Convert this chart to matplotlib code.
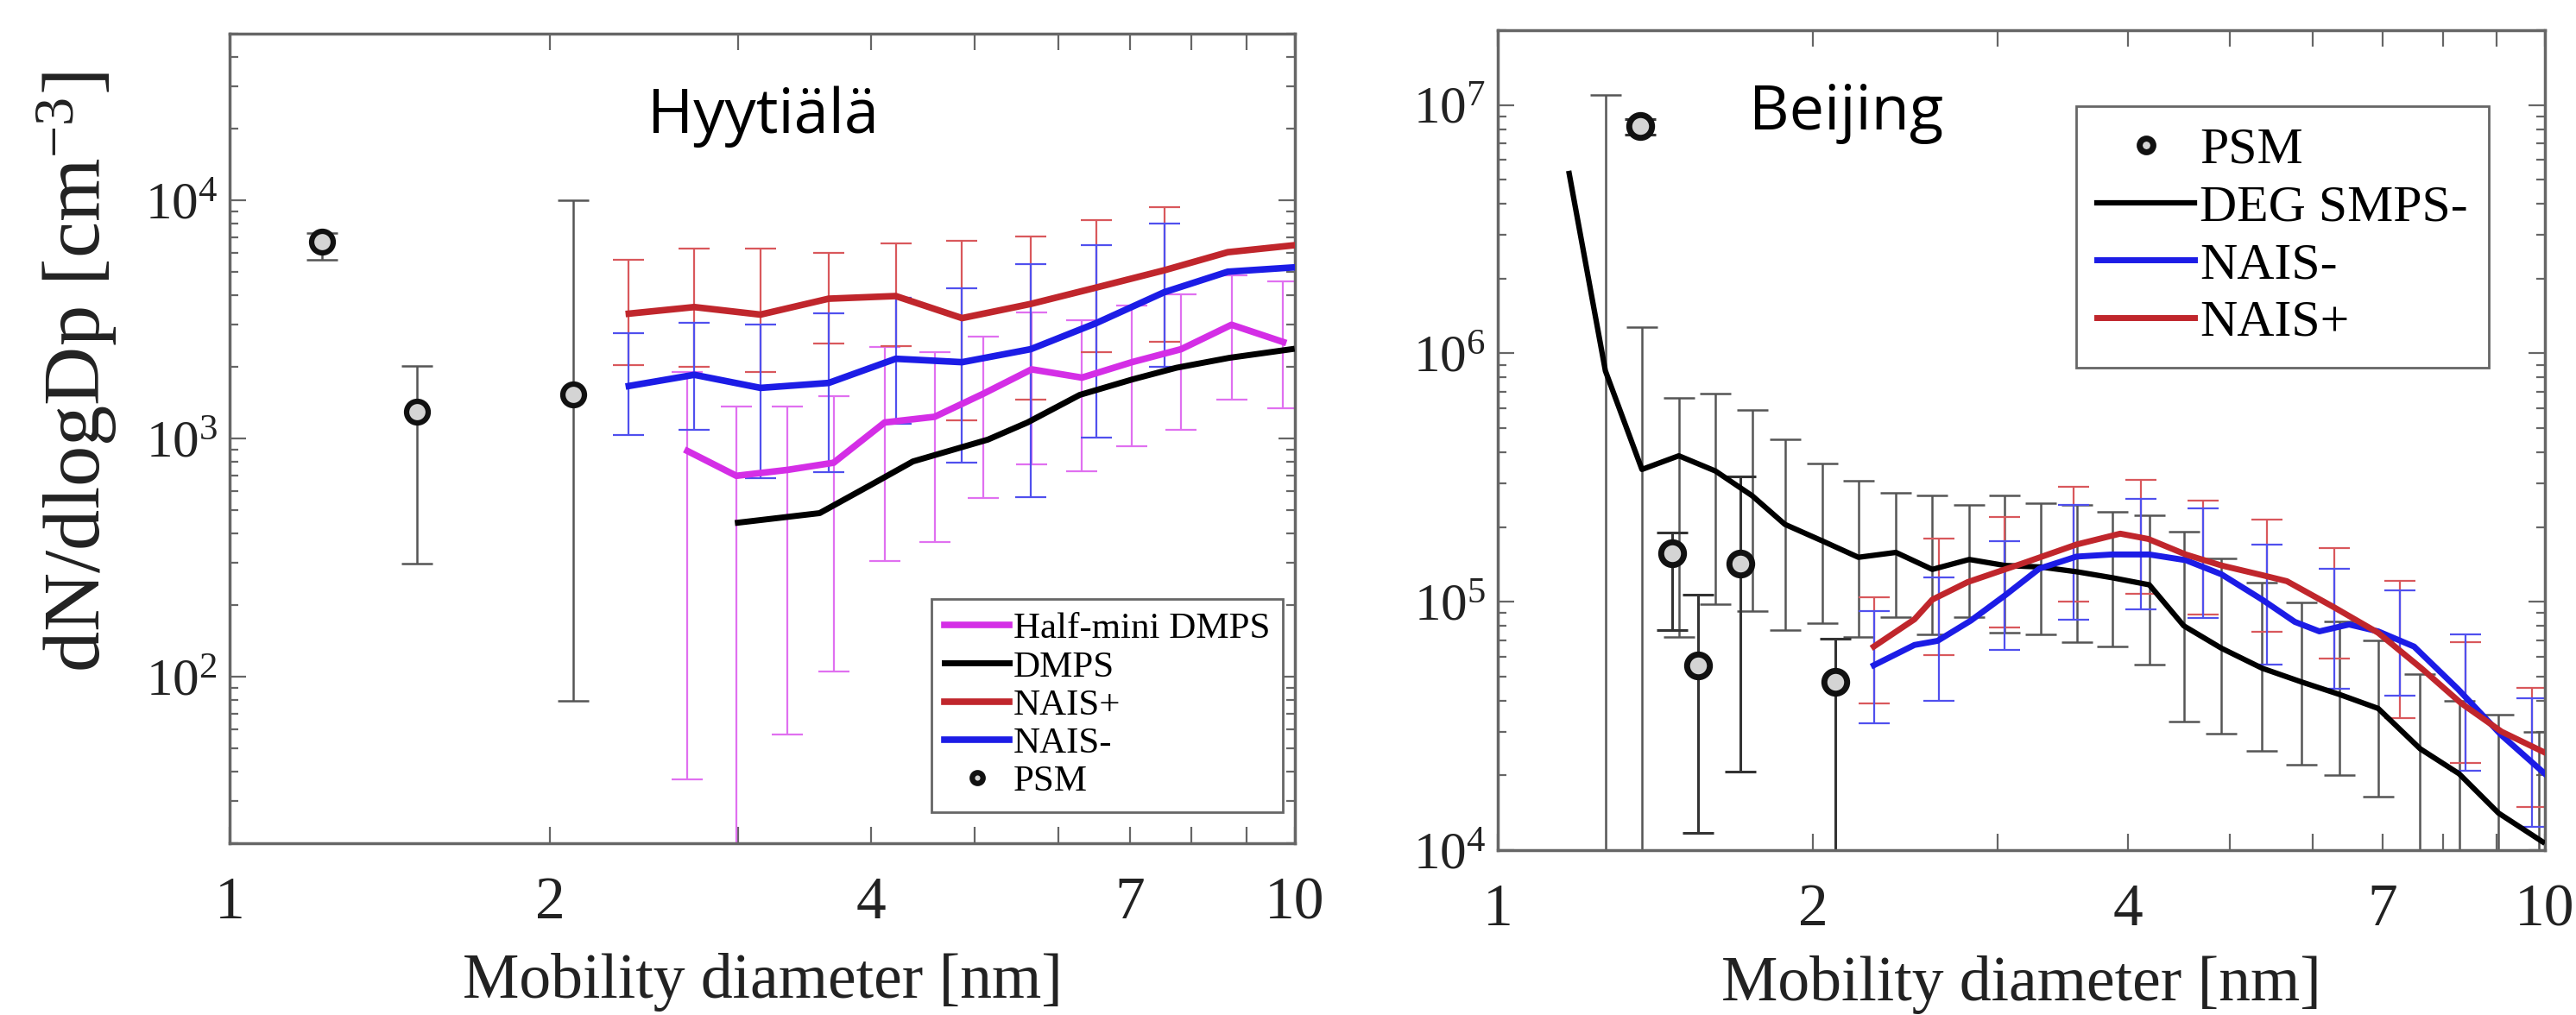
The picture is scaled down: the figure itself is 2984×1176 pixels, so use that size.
import numpy as np
import matplotlib
matplotlib.use("Agg")
import matplotlib.pyplot as plt
from matplotlib.ticker import FixedLocator, FixedFormatter, LogLocator, NullFormatter, LogFormatterSciNotation

plt.rcParams['font.family'] = ['Liberation Serif', 'DejaVu Serif']
plt.rcParams['mathtext.fontset'] = 'custom'
plt.rcParams['mathtext.rm'] = 'Liberation Serif'
plt.rcParams['mathtext.it'] = 'Liberation Serif:italic'

# ---------------- Hyytiälä data ----------------
hy_psm_x = [1.22, 1.50, 2.10]
hy_psm_y = [6700, 1290, 1530]
hy_psm_lo = [5600, 298, 79]
hy_psm_hi = [7300, 2010, 10000]

hy_nais_x = [2.37, 2.73, 3.15, 3.65, 4.22, 4.87, 5.65, 6.51, 7.54, 8.65, 9.95]
hy_naisp_y = [3340, 3560, 3310, 3860, 3960, 3200, 3670, 4300, 5080, 6050, 6460]
hy_naism_y = [1660, 1850, 1630, 1710, 2160, 2090, 2370, 3050, 4110, 5010, 5220]
hy_naiserr_x = [2.37, 2.73, 3.15, 3.65, 4.22, 4.87, 5.65, 6.51, 7.54]
hy_naisp_lo = [2040, 2000, 1900, 2510, 2440, 1190, 1460, 2300, 2540]
hy_naisp_hi = [5610, 6280, 6280, 6030, 6580, 6730, 7020, 8220, 9340]
hy_naism_lo = [1030, 1090, 680, 720, 1150, 791, 566, 1005, 2000]
hy_naism_hi = [2760, 3050, 3000, 3360, 3900, 4280, 5380, 6460, 7950]

hy_hm_x = [2.69, 2.99, 3.34, 3.69, 4.12, 4.59, 5.10, 5.66, 6.31, 7.03, 7.82, 8.72, 9.75]
hy_hm_y = [886, 697, 738, 791, 1167, 1233, 1541, 1950, 1800, 2090, 2370, 3000, 2540]
hy_hm_lo = [37, 8, 57, 105, 307, 367, 561, 781, 728, 925, 1090, 1460, 1340]
hy_hm_hi = [1900, 1360, 1360, 1500, 2430, 2300, 2670, 3370, 3130, 3600, 4020, 4820, 4560]

hy_dmps_x = [3.0, 3.58, 3.98, 4.38, 5.15, 5.61, 6.28, 7.04, 7.74, 8.68, 9.93]
hy_dmps_y = [443, 486, 631, 801, 989, 1167, 1523, 1770, 1980, 2180, 2370]

# ---------------- Beijing data ----------------
bj_psm_x = [1.368, 1.468, 1.553, 1.705, 2.102]
bj_psm_y = [8.2e6, 1.57e5, 5.55e4, 1.43e5, 4.77e4]
bj_psm_lo = [7.6e6, 7.7e4, 1.17e4, 2.07e4, 5e3]
bj_psm_hi = [8.8e6, 1.9e5, 1.07e5, 3.2e5, 7.1e4]

bj_smps_x = [1.17, 1.267, 1.373, 1.489, 1.614, 1.75, 1.88, 2.04, 2.21, 2.40, 2.60, 2.82, 3.05,
             3.30, 3.575, 3.86, 4.19, 4.52, 4.91, 5.37, 5.86, 6.36, 6.93, 7.60, 8.28, 9.03, 9.95]
bj_smps_y = [5.3e6, 8.5e5, 3.41e5, 3.87e5, 3.36e5, 2.67e5, 2.05e5, 1.76e5, 1.51e5, 1.58e5, 1.35e5,
             1.48e5, 1.40e5, 1.38e5, 1.32e5, 1.25e5, 1.17e5, 8.0e4, 6.5e4, 5.4e4, 4.75e4, 4.24e4,
             3.72e4, 2.56e4, 2.03e4, 1.41e4, 1.08e4]
bj_smpserr_x = [1.267, 1.373, 1.489, 1.614, 1.75, 1.88, 2.04, 2.21, 2.40, 2.60, 2.82, 3.05, 3.30,
                3.575, 3.86, 4.19, 4.52, 4.91, 5.37, 5.86, 6.36, 6.93, 7.60, 8.28, 9.03, 9.87]
bj_smps_hi = [1.1e7, 1.28e6, 6.64e5, 6.9e5, 5.9e5, 4.5e5, 3.6e5, 3.08e5, 2.75e5, 2.67e5, 2.45e5,
              2.67e5, 2.5e5, 2.45e5, 2.3e5, 2.23e5, 1.91e5, 1.5e5, 1.19e5, 9.9e4, 8.3e4, 7.0e4,
              5.1e4, 4.0e4, 3.5e4, 3.0e4]
bj_smps_lo = [5e3, 5e3, 7.2e4, 9.8e4, 9.2e4, 7.7e4, 8.2e4, 7.2e4, 8.7e4, 7.4e4, 8.7e4, 7.5e4, 7.4e4,
              6.9e4, 6.6e4, 5.6e4, 3.3e4, 2.95e4, 2.5e4, 2.2e4, 2.0e4, 1.64e4, 5e3, 5e3, 5e3, 5e3]

bj_naisp_x = [2.286, 2.5, 2.60, 2.81, 3.05, 3.16, 3.57, 3.93, 4.18, 4.54, 4.91, 5.37, 5.67, 6.29,
              6.93, 7.62, 8.32, 9.09, 10.0]
bj_naisp_y = [6.6e4, 8.5e4, 1.02e5, 1.2e5, 1.35e5, 1.42e5, 1.70e5, 1.88e5, 1.79e5, 1.55e5, 1.40e5,
              1.28e5, 1.21e5, 9.5e4, 7.5e4, 5.4e4, 3.9e4, 3.0e4, 2.47e4]
bj_naism_x = [2.286, 2.5, 2.63, 2.83, 3.05, 3.29, 3.57, 3.86, 4.19, 4.54, 4.91, 5.37, 5.77, 6.09,
              6.50, 6.93, 7.50, 8.26, 9.09, 10.0]
bj_naism_y = [5.55e4, 6.7e4, 6.96e4, 8.4e4, 1.06e5, 1.36e5, 1.52e5, 1.55e5, 1.55e5, 1.47e5, 1.29e5,
              1.02e5, 8.3e4, 7.6e4, 8.1e4, 7.6e4, 6.6e4, 4.45e4, 2.9e4, 2.03e4]
bj_naiserr_x = [2.286, 2.64, 3.05, 3.55, 4.11, 4.72, 5.43, 6.29, 7.27, 8.39, 9.72]
bj_naisp_hi = [1.04e5, 1.79e5, 2.2e5, 2.9e5, 3.1e5, 2.56e5, 2.14e5, 1.65e5, 1.21e5, 6.9e4, 4.5e4]
bj_naisp_lo = [3.9e4, 6.1e4, 7.9e4, 1.0e5, 1.08e5, 8.9e4, 7.6e4, 5.9e4, 3.4e4, 2.24e4, 1.49e4]
bj_naism_hi = [9.2e4, 1.25e5, 1.75e5, 2.45e5, 2.6e5, 2.38e5, 1.70e5, 1.36e5, 1.11e5, 7.4e4, 4.1e4]
bj_naism_lo = [3.24e4, 4.0e4, 6.4e4, 8.5e4, 9.3e4, 8.6e4, 5.6e4, 4.45e4, 4.2e4, 2.09e4, 1.24e4]

xtick_vals = [1, 2, 3, 4, 5, 6, 7, 8, 9, 10]
xtick_labels = ['1', '2', '', '4', '', '', '7', '', '', '10']

C_RED = '#c0262c'
C_BLUE = '#1c1ce6'
C_MAG = '#d42ee6'
C_RED_E = '#d9585c'
C_BLUE_E = '#5050ee'
C_MAG_E = '#e070f0'
C_GRAY_E = '#555555'
SPINE = '#666666'
PSM_FACE = '#d4d4d4'

fig = plt.figure(figsize=(29.84, 11.76), dpi=100)
axL = fig.add_axes([266/2984, 1-977/1176, 1234/2984, 938/1176])
axR = fig.add_axes([1735/2984, 1-985/1176, 1213/2984, 950/1176])


def bars(ax, x, lo, hi, color, lw=1.5, cap=13, alpha=1.0, z=2):
    lo = np.asarray(lo, float)
    hi = np.asarray(hi, float)
    ax.errorbar(x, lo, yerr=[np.zeros_like(lo), hi - lo], fmt='none', ecolor=color,
                elinewidth=lw, capsize=cap, capthick=lw, alpha=alpha, zorder=z)


def style(ax, ylim):
    ax.set_xscale('log')
    ax.set_yscale('log')
    ax.set_xlim(1, 10)
    ax.set_ylim(*ylim)
    ax.xaxis.set_major_locator(FixedLocator(xtick_vals))
    ax.xaxis.set_major_formatter(FixedFormatter(xtick_labels))
    ax.xaxis.set_minor_locator(FixedLocator([]))
    ax.yaxis.set_major_locator(LogLocator(base=10))
    ax.yaxis.set_major_formatter(LogFormatterSciNotation())
    ax.yaxis.set_minor_locator(LogLocator(base=10, subs=np.arange(2, 10)))
    ax.yaxis.set_minor_formatter(NullFormatter())
    ax.tick_params(which='both', direction='in', top=True, right=True, color=SPINE, width=1.6)
    ax.tick_params(which='major', length=14)
    ax.tick_params(which='minor', length=7)
    ax.tick_params(axis='x', labelsize=50, pad=28, colors='#222222')
    ax.tick_params(axis='y', labelsize=44, pad=10, colors='#222222')
    ax.tick_params(which='both', color=SPINE)
    for s in ax.spines.values():
        s.set_color(SPINE)
        s.set_linewidth(2.5)


# ---------------- Left panel ----------------
style(axL, (20, 5e4))
bars(axL, hy_hm_x, hy_hm_lo, hy_hm_hi, C_MAG_E, lw=1.6)
bars(axL, hy_naiserr_x, hy_naisp_lo, hy_naisp_hi, C_RED_E, lw=1.6)
bars(axL, hy_naiserr_x, hy_naism_lo, hy_naism_hi, C_BLUE_E, lw=1.6)
bars(axL, hy_psm_x, hy_psm_lo, hy_psm_hi, C_GRAY_E, lw=1.8)
l_hm, = axL.plot(hy_hm_x, hy_hm_y, color=C_MAG, lw=5.5, label='Half-mini DMPS', zorder=4)
l_dm, = axL.plot(hy_dmps_x, hy_dmps_y, color='black', lw=5, label='DMPS', zorder=4)
l_np, = axL.plot(hy_nais_x, hy_naisp_y, color=C_RED, lw=5.5, label='NAIS+', zorder=4)
l_nm, = axL.plot(hy_nais_x, hy_naism_y, color=C_BLUE, lw=5.5, label='NAIS-', zorder=4)
l_ps, = axL.plot(hy_psm_x, hy_psm_y, 'o', mfc=PSM_FACE, mec='#111111', ms=18, mew=4.5,
                 linestyle='none', label='PSM', zorder=5)
axL.set_xlabel('Mobility diameter [nm]', fontsize=53, color='#222222')
axL.xaxis.set_label_coords(0.5, -0.135)
axL.set_ylabel('dN/dlogDp [cm$^{-3}$]', fontsize=68, color='#222222')
axL.yaxis.set_label_coords(-0.104, 0.582)
legL = axL.legend(handles=[l_hm, l_dm, l_np, l_nm, l_ps], loc='upper left',
                  bbox_to_anchor=(1079/2984, 1-694/1176), bbox_transform=fig.transFigure,
                  borderaxespad=0, fontsize=31, handlelength=1.75, handletextpad=0.1,
                  labelspacing=0.12, borderpad=0.35, fancybox=False, framealpha=1,
                  markerscale=0.5)
legL.get_frame().set_edgecolor(SPINE)
legL.get_frame().set_linewidth(2)
fig.text(884/2984, 1-154/1176, 'Hyytiälä', fontsize=52, family='Open Sans',
         ha='center', va='baseline', color='black')

# ---------------- Right panel ----------------
style(axR, (1e4, 2e7))
bars(axR, bj_smpserr_x, bj_smps_lo, bj_smps_hi, C_GRAY_E, lw=1.8)
bars(axR, bj_naiserr_x, bj_naisp_lo, bj_naisp_hi, C_RED_E, lw=1.6)
bars(axR, bj_naiserr_x, bj_naism_lo, bj_naism_hi, C_BLUE_E, lw=1.6)
bars(axR, bj_psm_x, bj_psm_lo, bj_psm_hi, '#333333', lw=2.2)
r_sm, = axR.plot(bj_smps_x, bj_smps_y, color='black', lw=4.5, label='DEG SMPS-', zorder=4)
r_nm, = axR.plot(bj_naism_x, bj_naism_y, color=C_BLUE, lw=5, label='NAIS-', zorder=4)
r_np, = axR.plot(bj_naisp_x, bj_naisp_y, color=C_RED, lw=5, label='NAIS+', zorder=4)
r_ps, = axR.plot(bj_psm_x, bj_psm_y, 'o', mfc=PSM_FACE, mec='#111111', ms=19, mew=5,
                 linestyle='none', label='PSM', zorder=5)
axR.set_xlabel('Mobility diameter [nm]', fontsize=53, color='#222222')
axR.xaxis.set_label_coords(0.5, -0.128)
legR = axR.legend(handles=[r_ps, r_sm, r_nm, r_np], loc='upper left',
                  bbox_to_anchor=(2405/2984, 1-123/1176), bbox_transform=fig.transFigure,
                  borderaxespad=0, fontsize=43, handlelength=1.9, handletextpad=0.1,
                  labelspacing=0.2, borderpad=0.4, fancybox=False, framealpha=1,
                  markerscale=0.6)
legR.get_frame().set_edgecolor(SPINE)
legR.get_frame().set_linewidth(2)
fig.text(2139/2984, 1-150/1176, 'Beijing', fontsize=52, family='Open Sans',
         ha='center', va='baseline', color='black')

fig.savefig('out.png', dpi=100, facecolor='white')
